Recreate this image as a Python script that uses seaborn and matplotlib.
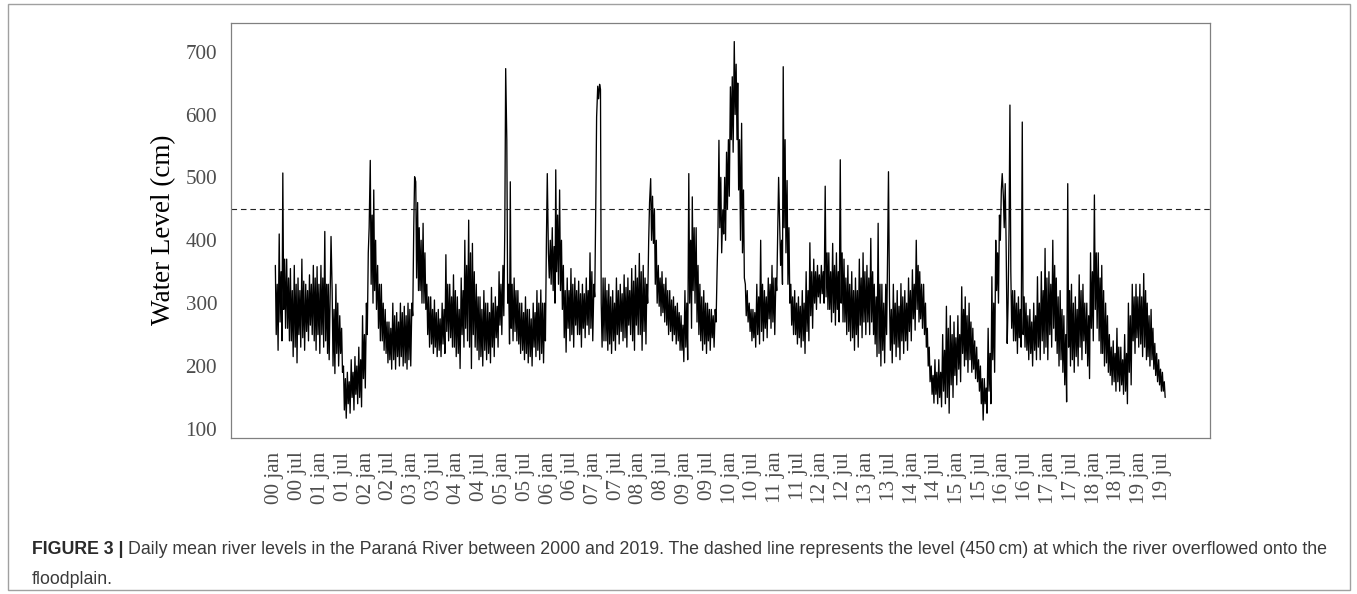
import numpy as np
import pandas as pd
import matplotlib
matplotlib.use("Agg")
import matplotlib.pyplot as plt
from matplotlib.patches import Rectangle
import seaborn as sns

# ---------------- data ----------------
first_month = "2000-01-01"
# water level (cm) read around the 4th of each month
week1_cm = [
    360, 410, 507, 370, 355, 360, 340, 370, 330, 345, 360, 358,   # 2000
    360, 414, 330, 320, 330, 280, 200, 190, 210, 215, 230, 280,   # 2001
    300, 527, 480, 360, 330, 290, 270, 300, 285, 300, 295, 300,   # 2002
    300, 493, 420, 427, 330, 310, 305, 290, 300, 377, 330, 345,   # 2003
    310, 340, 400, 432, 395, 330, 310, 320, 300, 325, 310, 350,   # 2004
    360, 560, 493, 340, 320, 300, 310, 290, 300, 320, 321, 300,   # 2005
    380, 420, 512, 480, 360, 340, 355, 340, 335, 330, 340, 380,   # 2006
    330, 645, 300, 340, 330, 320, 340, 330, 345, 340, 355, 360,   # 2007
    379, 360, 330, 498, 450, 360, 350, 340, 320, 310, 300, 280,   # 2008
    320, 506, 469, 420, 330, 320, 300, 290, 290, 559, 448, 540,   # 2009
    644, 716, 650, 586, 330, 300, 290, 330, 400, 320, 340, 360,   # 2010
    340, 420, 676, 495, 330, 320, 310, 320, 350, 396, 370, 360,   # 2011
    360, 486, 380, 395, 380, 528, 370, 360, 350, 340, 370, 380,   # 2012
    360, 403, 330, 427, 330, 330, 310, 330, 320, 331, 320, 340,   # 2013
    353, 400, 350, 330, 260, 200, 210, 210, 250, 295, 280, 270,   # 2014
    280, 326, 310, 300, 260, 230, 200, 180, 260, 342, 400, 440,   # 2015
    470, 236, 350, 320, 310, 588, 300, 290, 300, 342, 350, 387,   # 2016
    350, 400, 340, 320, 280, 490, 330, 310, 345, 330, 300, 380,   # 2017
    472, 380, 360, 300, 250, 240, 260, 230, 250, 300, 330, 330,   # 2018
    330, 347, 300, 290, 236, 210, 190,                            # 2019
]
# water level (cm) read around the 11th of each month
week2_cm = [
    250, 270, 290, 260, 240, 230, 250, 245, 255, 265, 240, 250,   # 2000
    250, 240, 210, 200, 220, 220, 130, 140, 150, 155, 150, 180,   # 2001
    250, 330, 320, 260, 240, 220, 210, 210, 215, 215, 205, 210,   # 2002
    280, 340, 320, 300, 250, 235, 230, 225, 235, 255, 245, 230,   # 2003
    220, 250, 260, 230, 250, 225, 215, 225, 220, 230, 245, 265,   # 2004
    280, 300, 260, 255, 235, 225, 220, 215, 230, 225, 220, 240,   # 2005
    340, 320, 350, 320, 245, 260, 250, 265, 250, 260, 265, 260,   # 2006
    310, 625, 230, 240, 235, 240, 250, 255, 245, 265, 240, 265,   # 2007
    250, 255, 300, 400, 330, 295, 285, 265, 255, 250, 240, 225,   # 2008
    230, 300, 320, 270, 240, 235, 240, 245, 270, 420, 410, 450,   # 2009
    560, 600, 480, 380, 280, 255, 245, 250, 255, 260, 275, 270,   # 2010
    320, 360, 420, 330, 265, 250, 245, 240, 255, 280, 300, 310,   # 2011
    315, 310, 290, 285, 290, 300, 270, 255, 245, 250, 265, 270,   # 2012
    270, 270, 235, 220, 225, 250, 225, 235, 230, 240, 240, 255,   # 2013
    275, 290, 275, 250, 200, 155, 155, 150, 160, 150, 170, 185,   # 2014
    195, 220, 210, 210, 195, 175, 140, 140, 160, 210, 320, 400,   # 2015
    420, 300, 260, 240, 245, 250, 225, 220, 225, 230, 240, 230,   # 2016
    250, 260, 220, 210, 170, 230, 210, 215, 230, 240, 200, 260,   # 2017
    290, 240, 220, 205, 185, 175, 175, 170, 160, 190, 240, 245,   # 2018
    235, 230, 215, 210, 185, 170, 160,                            # 2019
]
# water level (cm) read around the 19th of each month
week3_cm = [
    330, 350, 370, 340, 320, 330, 320, 335, 320, 330, 340, 330,   # 2000
    340, 330, 320, 290, 300, 260, 180, 175, 190, 200, 210, 250,   # 2001
    380, 440, 400, 330, 300, 270, 260, 280, 270, 285, 280, 290,   # 2002
    420, 460, 400, 380, 310, 290, 285, 275, 290, 330, 310, 320,   # 2003
    290, 320, 360, 380, 350, 310, 290, 300, 285, 300, 295, 330,   # 2004
    420, 330, 330, 320, 300, 285, 290, 275, 285, 300, 300, 400,   # 2005
    400, 390, 440, 400, 320, 320, 330, 320, 315, 315, 320, 350,   # 2006
    450, 648, 340, 320, 310, 300, 320, 315, 325, 320, 335, 340,   # 2007
    350, 340, 400, 470, 400, 340, 330, 320, 305, 295, 285, 265,   # 2008
    300, 400, 420, 360, 310, 300, 290, 280, 350, 500, 500, 560,   # 2009
    660, 680, 560, 480, 320, 290, 285, 310, 330, 310, 330, 340,   # 2010
    420, 400, 560, 420, 310, 300, 295, 300, 320, 350, 350, 345,   # 2011
    350, 380, 350, 360, 350, 380, 340, 330, 320, 320, 340, 350,   # 2012
    340, 350, 310, 330, 300, 380, 290, 300, 295, 310, 300, 320,   # 2013
    330, 360, 330, 300, 230, 185, 190, 190, 225, 260, 250, 245,   # 2014
    250, 290, 280, 270, 240, 210, 180, 165, 220, 300, 380, 480,   # 2015
    490, 420, 320, 300, 290, 310, 280, 270, 280, 300, 320, 340,   # 2016
    330, 360, 310, 290, 250, 320, 300, 290, 320, 300, 280, 350,   # 2017
    380, 340, 320, 280, 230, 220, 230, 210, 220, 280, 310, 310,   # 2018
    310, 320, 280, 260, 220, 195, 175,                            # 2019
]
# water level (cm) read around the 26th of each month
week4_cm = [
    225, 240, 260, 240, 215, 205, 230, 225, 240, 250, 225, 220,   # 2000
    230, 220, 406, 188, 200, 190, 117, 125, 130, 140, 135, 165,   # 2001
    420, 300, 290, 240, 225, 205, 195, 195, 200, 200, 195, 200,   # 2002
    501, 320, 300, 290, 230, 220, 215, 215, 220, 240, 230, 215,   # 2003
    196, 230, 240, 196, 230, 210, 200, 210, 205, 215, 230, 250,   # 2004
    673, 235, 240, 240, 220, 210, 205, 200, 215, 210, 205, 506,   # 2005
    330, 300, 330, 290, 222, 240, 230, 250, 230, 245, 250, 240,   # 2006
    596, 640, 240, 225, 220, 225, 235, 240, 230, 250, 225, 250,   # 2007
    225, 235, 460, 395, 300, 280, 270, 250, 240, 235, 225, 207,   # 2008
    210, 260, 300, 250, 225, 220, 225, 230, 411, 380, 400, 470,   # 2009
    540, 560, 400, 340, 270, 240, 230, 235, 240, 245, 260, 250,   # 2010
    500, 330, 380, 300, 250, 235, 230, 220, 240, 260, 290, 300,   # 2011
    300, 290, 270, 265, 270, 270, 250, 240, 225, 230, 245, 250,   # 2012
    250, 250, 215, 200, 205, 509, 205, 215, 210, 220, 225, 240,   # 2013
    257, 270, 260, 230, 175, 141, 140, 135, 140, 125, 150, 170,   # 2014
    175, 200, 190, 190, 180, 160, 114, 125, 140, 190, 300, 506,   # 2015
    400, 615, 240, 220, 230, 230, 210, 200, 210, 210, 220, 210,   # 2016
    230, 240, 200, 190, 143, 200, 190, 200, 210, 220, 180, 240,   # 2017
    260, 220, 200, 190, 170, 160, 160, 155, 140, 170, 220, 230,   # 2018
    215, 210, 200, 195, 175, 160, 150,                            # 2019
]
reading_days = [3, 10, 18, 25]   # day offsets of the four readings in a month
flood_level_cm = 450
y_ticks = [100, 200, 300, 400, 500, 600, 700]
tick_years = list(range(2000, 2020))
tick_months = ["jan", "jul"]
tick_labels = [f"{y % 100:02d} {m}" for y in tick_years for m in tick_months]
y_label = "Water Level (cm)"
caption_bold = "FIGURE 3 |"
caption_line1 = ("Daily mean river levels in the Paraná River between 2000 and 2019. "
                 "The dashed line represents the level (450\u2009cm) at which the river overflowed onto the")
caption_line2 = "floodplain."

# ---------------- build frame ----------------
months = pd.date_range(first_month, periods=len(week1_cm), freq="MS")
dates, levels = [], []
for m, *vals in zip(months, week1_cm, week2_cm, week3_cm, week4_cm):
    for d, v in zip(reading_days, vals):
        dates.append(m + pd.Timedelta(days=d))
        levels.append(v)
df = pd.DataFrame({"date": dates, "level": levels})
tick_dates = [pd.Timestamp(f"{y}-{'01' if m == 'jan' else '07'}-01")
              for y in tick_years for m in tick_months]

# ---------------- figure ----------------
sns.set_style("white")
W, H = 1357, 594
fig = plt.figure(figsize=(W / 100, H / 100), dpi=100)
fig.patch.set_facecolor("white")

# outer frame
fig.add_artist(Rectangle((8 / W, 4 / H), (1350 - 8) / W, (590 - 4) / H,
                         transform=fig.transFigure, fill=False,
                         edgecolor="#a0a0a0", lw=1.0))

ax = fig.add_axes([231 / W, (H - 437.7) / H, (1210 - 231) / W, 415 / H])
sns.lineplot(data=df, x="date", y="level", ax=ax, color="black",
             lw=0.95, estimator=None, sort=False)
ax.axhline(flood_level_cm, color="#222222", lw=0.8, ls=(0, (5, 3.5)))

x0 = pd.Timestamp("2000-01-01") - pd.Timedelta(days=353)
x1 = pd.Timestamp("2019-07-01") + pd.Timedelta(days=385)
ax.set_xlim(x0, x1)
ax.set_ylim(86, 746)

serif = "Liberation Serif"
ax.set_xticks(tick_dates)
ax.set_xticklabels(tick_labels, rotation=90, fontfamily=serif,
                   fontsize=15.2, color="#4d4d4d")
ax.set_yticks(y_ticks)
ax.set_yticklabels([str(v) for v in y_ticks], fontfamily=serif,
                   fontsize=15.2, color="#4d4d4d")
ax.tick_params(axis="both", length=5, width=0.8, color="#555555",
               pad=5, direction="out")
ax.set_xlabel("")
ax.set_ylabel(y_label, fontfamily=serif, fontsize=19.5, color="black",
              va="center")
ax.yaxis.set_label_coords((164 - 231) / (1210 - 231), 0.5)
for s in ax.spines.values():
    s.set_visible(True)
    s.set_color("#808080")
    s.set_linewidth(0.9)

# ---------------- caption ----------------
sans = "Liberation Sans"
cap_size = 12.0
y1 = 1 - 547 / H
y2 = 1 - 577 / H
left_px, right_px = 32, 1330
r = fig.canvas.get_renderer()
tb = fig.text(left_px / W, y1, caption_bold, fontfamily=sans, fontweight="bold",
              fontsize=cap_size, va="center_baseline")
tr = fig.text(0, y1, caption_line1, fontfamily=sans, fontsize=cap_size,
              va="center_baseline")
total = tb.get_window_extent(r).width + 4 + tr.get_window_extent(r).width
cap_size *= (right_px - left_px) / total
tb.remove()
tr.remove()

tb = fig.text(left_px / W, y1, caption_bold, fontfamily=sans, fontweight="bold",
              fontsize=cap_size, color="#2a2a2a", va="center_baseline")
bw = tb.get_window_extent(r).width
fig.text((left_px + bw + 4) / W, y1, caption_line1, fontfamily=sans,
         fontsize=cap_size, color="#3a3a3a", va="center_baseline")
fig.text(left_px / W, y2, caption_line2, fontfamily=sans, fontsize=cap_size,
         color="#3a3a3a", va="center_baseline")

fig.savefig("out.png", dpi=100)
